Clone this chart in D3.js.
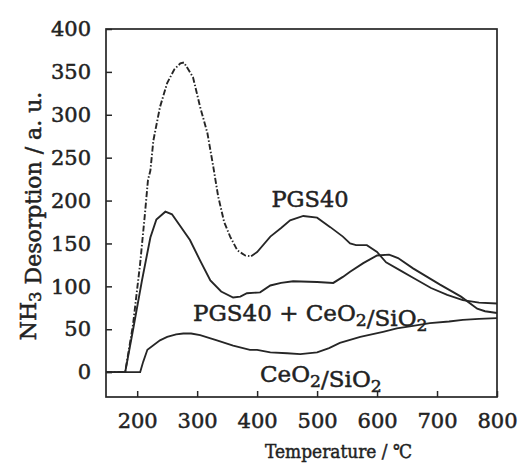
<!DOCTYPE html>
<html>
<head>
<meta charset="utf-8">
<script src="https://cdn.jsdelivr.net/npm/d3@7"></script>
<style>
  html, body { margin: 0; padding: 0; background: #fff; }
  svg { display: block; }
</style>
</head>
<body>
<svg id="chart" width="518" height="465"></svg>
<script>
// ---- data ----
const xTicks = [200, 300, 400, 500, 600, 700, 800];
const yTicks = [0, 50, 100, 150, 200, 250, 300, 350, 400];

const pgs40Temp = [148, 180, 193, 205, 213, 218, 222, 227, 238, 250, 262, 272, 278, 293, 305, 317, 327, 335, 345, 355, 367, 380, 390, 400, 422, 440, 455, 477, 500, 522, 543, 555, 565, 583, 600, 615, 640, 660, 690, 717, 743, 770, 800];
const pgs40Val  = [0,   0,   55,  127, 185, 224, 235, 270, 309, 337, 353, 360, 361, 344, 309, 279, 239, 205, 175, 158, 142, 136, 135, 140, 158, 168, 177, 182, 180, 169, 158, 150, 148, 148, 140, 128, 118, 110, 98,  90,  84,  81,  80];

const mixTemp = [148, 180, 193, 208, 222, 232, 247, 258, 270, 288, 305, 322, 340, 360, 372, 383, 405, 422, 440, 460, 500, 527, 543, 555, 577, 600, 620, 635, 660, 705, 740, 767, 780, 800];
const mixVal  = [0,   0,   49,  107, 157, 178, 187, 184, 172, 154, 130, 107, 94,  87,  88,  92,  93,  101, 104, 106, 105, 104, 111, 117, 127, 136, 137, 133, 121, 102, 88,  74,  71,  69];

const ceoTemp = [148, 205, 210, 217, 238, 250, 265, 277, 290, 305, 333, 360, 388, 400, 422, 450, 472, 500, 520, 538, 572, 610, 633, 660, 688, 720, 743, 770, 800];
const ceoVal  = [0,   0,   12,  26,  37,  41,  44,  45,  45,  43,  37,  31,  26,  26,  23,  22,  21,  23,  28,  34,  41,  47,  51,  54,  57,  59,  61,  62,  63];

const pgs40DashedUntil = 395;

// ---- layout ----
const svg = d3.select("#chart");
const mLeft = 106, mRight = 497, mTop = 29, mBottom = 397;
const x = d3.scaleLinear().domain([148, 800]).range([mLeft, mRight]);
const y = d3.scaleLinear().domain([-29, 400]).range([mBottom, mTop]);
const ink = "#262626";
const FONT = "DejaVu Serif";

function styleText(sel, size) {
  return sel.attr("font-family", FONT).style("font-family", FONT)
    .attr("font-size", size).style("font-size", size + "px")
    .attr("fill", "#222").attr("stroke", "#222").attr("stroke-width", 0.5);
}

// frame
svg.append("rect")
  .attr("x", mLeft).attr("y", mTop)
  .attr("width", mRight - mLeft).attr("height", mBottom - mTop)
  .attr("fill", "none").attr("stroke", ink).attr("stroke-width", 1.7);

// axes
const gx = svg.append("g").attr("transform", `translate(0,${mBottom})`)
  .call(d3.axisBottom(x).tickValues(xTicks).tickSizeInner(-6).tickSizeOuter(0).tickPadding(16));
const gy = svg.append("g").attr("transform", `translate(${mLeft},0)`)
  .call(d3.axisLeft(y).tickValues(yTicks).tickSizeInner(-6).tickSizeOuter(0).tickPadding(15));
[gx, gy].forEach(g => {
  g.attr("font-family", FONT);
  g.select(".domain").remove();
  g.selectAll(".tick line").attr("stroke", ink).attr("stroke-width", 1.5);
  styleText(g.selectAll(".tick text"), 21);
});

// curves
const line = d3.line().x(d => x(d[0])).y(d => y(d[1]));
const zip = (a, b) => a.map((t, i) => [t, b[i]]);

const pgs = zip(pgs40Temp, pgs40Val);
svg.append("path").datum(pgs.filter(d => d[0] <= pgs40DashedUntil))
  .attr("d", line).attr("fill", "none").attr("stroke", ink)
  .attr("stroke-width", 1.9).attr("stroke-dasharray", "6,2,1.5,2");
svg.append("path").datum(pgs.filter(d => d[0] >= 390))
  .attr("d", line).attr("fill", "none").attr("stroke", ink).attr("stroke-width", 1.8);

svg.append("path").datum(zip(mixTemp, mixVal))
  .attr("d", line).attr("fill", "none").attr("stroke", ink).attr("stroke-width", 1.9);

svg.append("path").datum(zip(ceoTemp, ceoVal))
  .attr("d", line).attr("fill", "none").attr("stroke", ink).attr("stroke-width", 1.8);

// annotations
function chem(sel, parts) {
  parts.forEach(p => {
    if (p.sub) {
      sel.append("tspan").attr("font-size", "0.75em").attr("dy", "0.28em").text(p.t);
      sel.append("tspan").attr("dy", "-0.21em").text("");
    } else {
      sel.append("tspan").text(p.t);
    }
  });
}

styleText(svg.append("text"), 22.5).attr("x", 310).attr("y", 207)
  .attr("text-anchor", "middle").text("PGS40");

const t2 = styleText(svg.append("text"), 23).attr("x", 193).attr("y", 321);
chem(t2, [{t: "PGS40 + CeO"}, {t: "2", sub: true}, {t: "/SiO"}, {t: "2", sub: true}]);

const t3 = styleText(svg.append("text"), 23).attr("x", 260).attr("y", 382);
chem(t3, [{t: "CeO"}, {t: "2", sub: true}, {t: "/SiO"}, {t: "2", sub: true}]);

// axis titles
styleText(svg.append("text"), 19).attr("x", 265).attr("y", 458)
  .attr("textLength", 147).attr("lengthAdjust", "spacingAndGlyphs")
  .text("Temperature / ℃");

const yt = styleText(svg.append("text"), 22)
  .attr("transform", "translate(36,216) rotate(-90)")
  .attr("text-anchor", "middle");
chem(yt, [{t: "NH"}, {t: "3", sub: true}, {t: " Desorption / a. u."}]);
</script>
</body>
</html>
